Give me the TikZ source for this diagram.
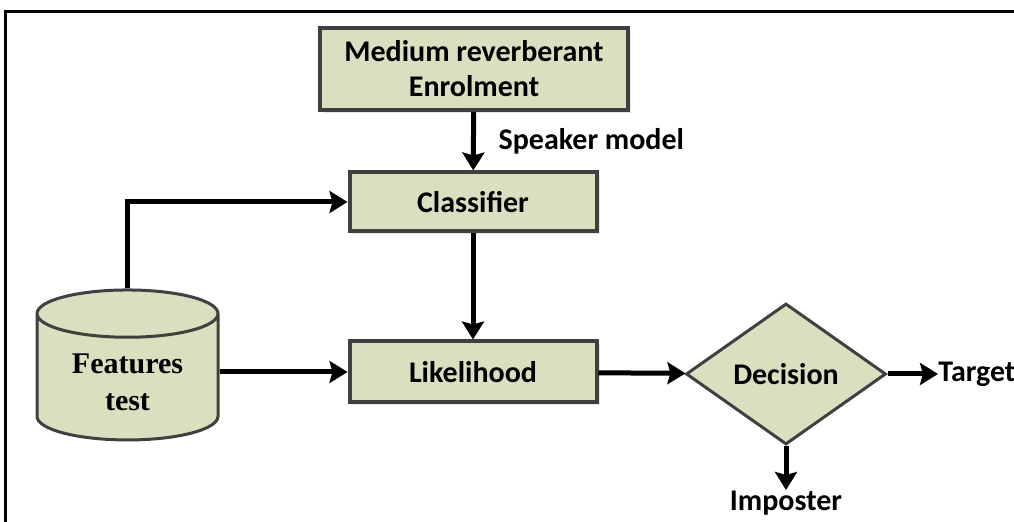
\documentclass[tikz,border=0pt]{standalone}
\usepackage{fontspec}
\setmainfont{Carlito}
\newfontfamily\featfont{Liberation Serif}
\usetikzlibrary{arrows.meta, shapes.geometric, shadows}
\definecolor{boxgreen}{RGB}{217,224,192}
\definecolor{boxedge}{RGB}{64,64,64}

\begin{document}
\begin{tikzpicture}[
                x=0.5pt, y=0.5pt,
                font=\fontsize{15}{17.5}\selectfont\bfseries,
                greenbox/.style={shape=rectangle, fill=boxgreen, draw=boxedge, line width=2pt, align=center,
                                 drop shadow={shadow xshift=1.5pt, shadow yshift=-1.5pt, opacity=0.2}},
                decisionnode/.style={shape=diamond, fill=boxgreen, draw=boxedge, line width=1.5pt,
                                 minimum width=100pt, minimum height=70.5pt, inner sep=0pt},
                featurenode/.style={shape=cylinder, shape border rotate=90, aspect=0.38, fill=boxgreen, draw=boxedge,
                                 line width=1.5pt, minimum width=90.5pt, minimum height=75pt, align=center,
                                 font=\fontsize{15}{18.5}\selectfont\featfont\bfseries},
                flow/.style={line width=2.5pt, -{Stealth[length=9pt, width=11pt, inset=1.5pt]}}
                ]
                \useasboundingbox (0,0) rectangle (1014,-522);

                %% Frame
                \draw[line width=1.5pt] (5,-522) -- (5,-12) -- (1014,-12);

                %% Blocks
                \node[greenbox, minimum width=154pt, minimum height=41pt] (enrol) at (474,-69) {Medium reverberant\\Enrolment};
                \node[greenbox, minimum width=123.5pt, minimum height=29.5pt] (classifier) at (473,-202) {Classifier};
                \node[greenbox, minimum width=123.5pt, minimum height=30.5pt] (likelihood) at (473,-372) {Likelihood};
                \node[featurenode] (features) at (127.5,-382) {Features\\test};
                \node[decisionnode] (decision) at (786,-374) {Decision};

                %% Outputs
                \node[anchor=west, inner sep=0pt] (target) at (938,-374) {Target};
                \node[inner sep=0pt] (imposter) at (786,-503) {Imposter};
                \coordinate (impend) at (786,-490);

                %% Draws
                \draw[flow] (enrol) -- (classifier) node[pos=0.5, right=8pt] {Speaker model};
                \draw[flow] (classifier) -- (likelihood);
                \draw[flow] (features.north) |- (classifier.west);
                \draw[flow] (features.east |- likelihood.west) -- (likelihood.west);
                \draw[flow] (likelihood) -- (decision);
                \draw[flow] (decision) -- (target);
                \draw[flow] (decision) -- (impend);
\end{tikzpicture}
\end{document}
